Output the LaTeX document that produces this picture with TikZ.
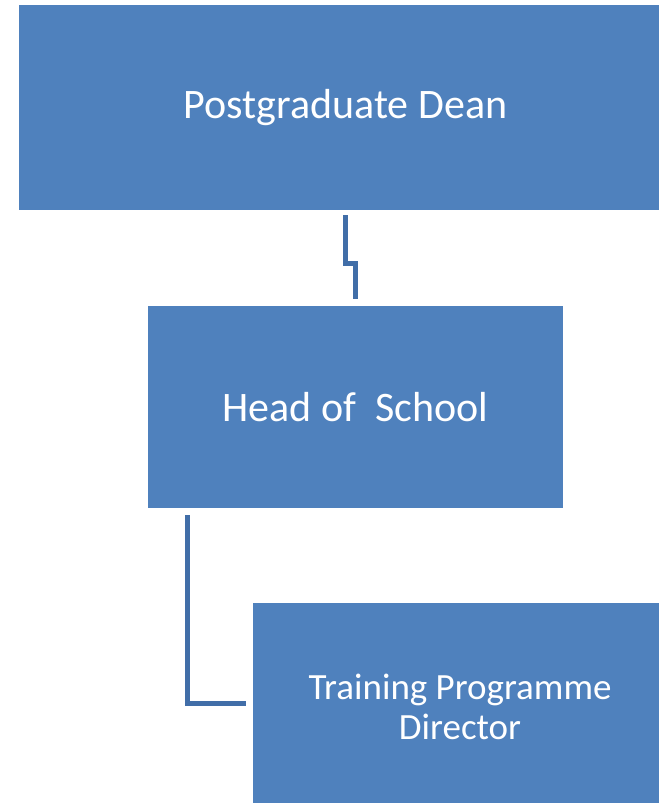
\documentclass[tikz,border=0pt]{standalone}
\usepackage{fontspec}
\setmainfont{Carlito}
\usetikzlibrary{positioning}
\definecolor{boxblue}{RGB}{79,129,189}
\definecolor{linkblue}{RGB}{65,110,168}
\tikzset{
    every node/.append style={
        anchor=center,
        text=white,
        text centered,
        inner sep=0pt
    },
    post/.style={
        rectangle,
        fill=boxblue,
        draw=none,
    },
    link/.style={
        draw=linkblue,
        line width=5pt,
    },
}

\begin{document}
\begin{tikzpicture}[x=1pt,y=-1pt]
    \useasboundingbox (0,0) rectangle (659,803);

    \node[post, minimum width=640pt, minimum height=205pt, font=\fontsize{42}{50}\selectfont] (dean) at (339,107.5) {\hspace*{13pt}Postgraduate Dean};
    \node[post, minimum width=415pt, minimum height=202pt, font=\fontsize{42}{50}\selectfont] (head) at (355.5,407) {Head of\ \ School};
    \node[post, minimum width=406pt, minimum height=200pt, font=\fontsize{37}{40}\selectfont, align=center] (tpd) at (456,703) {\rule{0pt}{33pt}\hspace*{8pt}Training Programme\\\hspace*{8pt}Director};

    % connectors
    \draw[link] ([shift={(6.5pt,-5pt)}]dean.south) -- ++(0,48) -| ([yshift=7pt]head.north);
    \draw[link] ([shift={(-168.5pt,-7pt)}]head.south) |- ([xshift=-7pt]tpd.west);
\end{tikzpicture}
\end{document}
